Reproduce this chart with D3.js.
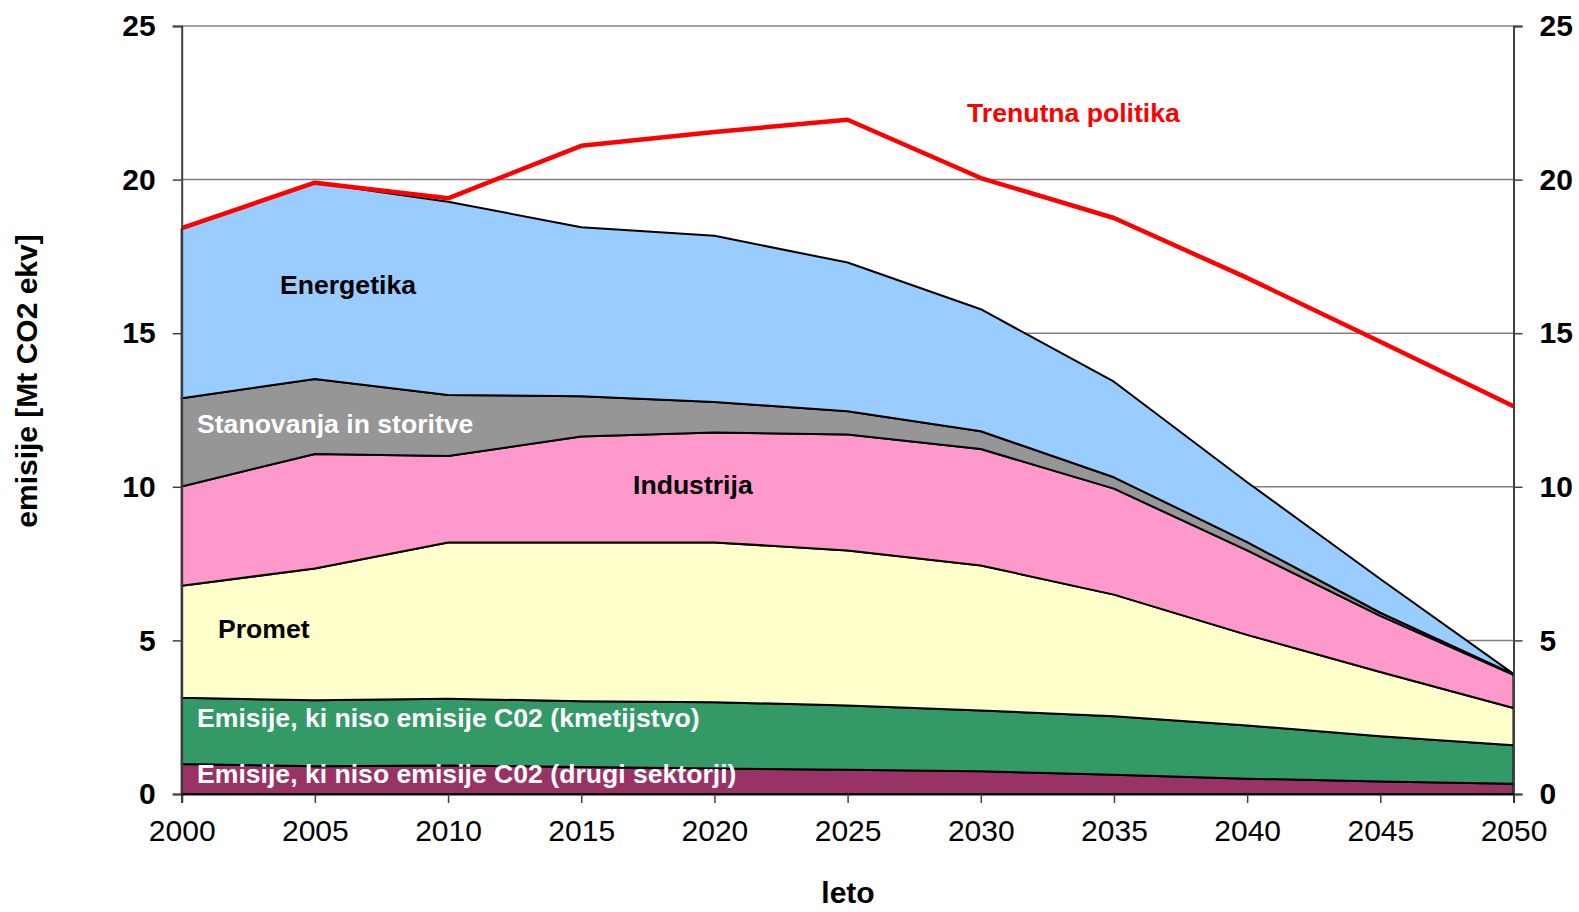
<!DOCTYPE html>
<html>
<head>
<meta charset="utf-8">
<script src="https://cdn.jsdelivr.net/npm/d3@7/dist/d3.min.js"></script>
<style>
  html, body { margin: 0; padding: 0; background: #fff; }
  svg { display: block; font-family: "Liberation Sans", Arial, sans-serif; }
</style>
</head>
<body>
<svg id="chart" width="1579" height="912"></svg>
<script>
// ---- data ----
const years = [2000, 2005, 2010, 2015, 2020, 2025, 2030, 2035, 2040, 2045, 2050];
const drugiSektorji = [0.98, 0.90, 0.93, 0.88, 0.83, 0.79, 0.74, 0.63, 0.50, 0.41, 0.33];
const kmetijstvo    = [2.15, 2.15, 2.17, 2.14, 2.16, 2.09, 1.98, 1.90, 1.73, 1.47, 1.26];
const promet        = [3.65, 4.29, 5.09, 5.17, 5.20, 5.05, 4.72, 3.96, 2.95, 2.09, 1.21];
const industrija    = [3.23, 3.73, 2.81, 3.45, 3.58, 3.77, 3.79, 3.45, 2.75, 1.83, 1.08];
const stanovanja    = [2.87, 2.44, 1.99, 1.31, 0.99, 0.76, 0.58, 0.37, 0.27, 0.10, 0.02];
const energetika    = [5.52, 6.39, 6.29, 5.50, 5.41, 4.84, 3.97, 3.11, 1.95, 1.10, 0.01];
const trenutnaPolitika = [18.42, 19.90, 19.39, 21.10, 21.55, 21.95, 20.05, 18.75, 16.80, 14.72, 12.62];
const yTicks = [0, 5, 10, 15, 20, 25];
const seriesKeys = ["drugi", "kmetijstvo", "promet", "industrija", "stanovanja", "energetika"];
const seriesColors = {
  drugi: "#993366", kmetijstvo: "#339966", promet: "#FFFFCC",
  industrija: "#FF99CC", stanovanja: "#969696", energetika: "#99CCFF"
};

// ---- build table ----
const table = years.map((yr, i) => ({
  year: yr,
  drugi: drugiSektorji[i], kmetijstvo: kmetijstvo[i], promet: promet[i],
  industrija: industrija[i], stanovanja: stanovanja[i], energetika: energetika[i]
}));

const svg = d3.select("#chart");
const x = d3.scaleLinear().domain([2000, 2050]).range([181.7, 1513.5]);
const y = d3.scaleLinear().domain([0, 25]).range([794, 26]);

// gridlines
svg.append("g").selectAll("line").data(yTicks.filter(d => d > 0)).join("line")
  .attr("x1", x(2000)).attr("x2", x(2050))
  .attr("y1", d => y(d)).attr("y2", d => y(d))
  .attr("stroke", "#808080").attr("stroke-width", 1.5);

// stacked areas
const stack = d3.stack().keys(seriesKeys);
const layers = stack(table);
const area = d3.area()
  .x(d => x(d.data.year))
  .y0(d => y(d[0]))
  .y1(d => y(d[1]));
svg.append("g").selectAll("path").data(layers).join("path")
  .attr("d", area)
  .attr("fill", d => seriesColors[d.key])
  .attr("stroke", "#000").attr("stroke-width", 2).attr("stroke-linejoin", "round");

// red line
const line = d3.line().x((d, i) => x(years[i])).y(d => y(d));
svg.append("path").datum(trenutnaPolitika)
  .attr("d", line).attr("fill", "none")
  .attr("stroke", "#FF0000").attr("stroke-width", 4.5).attr("stroke-linejoin", "round");

// axes
const yLeft = svg.append("g").attr("transform", `translate(${x(2000)},0)`)
  .call(d3.axisLeft(y).tickValues(yTicks).tickSize(9).tickPadding(17).tickFormat(d3.format("d")));
const yRight = svg.append("g").attr("transform", `translate(${x(2050)},0)`)
  .call(d3.axisRight(y).tickValues(yTicks).tickSize(9).tickPadding(17).tickFormat(d3.format("d")));
[yLeft, yRight].forEach(g => {
  g.select(".domain").attr("stroke", "#404040").attr("stroke-width", 2);
  g.selectAll(".tick line").attr("stroke", "#404040").attr("stroke-width", 1.5);
  g.selectAll(".tick text").attr("font-size", 30).attr("font-weight", "bold")
    .attr("fill", "#000").attr("font-family", "Liberation Sans, Arial, sans-serif");
});

const xAxis = svg.append("g").attr("transform", `translate(0,${y(0)})`)
  .call(d3.axisBottom(x).tickValues(years).tickSize(9).tickFormat(d3.format("d")));
xAxis.select(".domain").attr("stroke", "#000").attr("stroke-width", 2);
xAxis.selectAll(".tick line").attr("stroke", "#404040").attr("stroke-width", 1.5);
xAxis.selectAll(".tick text").attr("font-size", 30).attr("fill", "#000")
  .attr("dy", null).attr("y", 47)
  .attr("font-family", "Liberation Sans, Arial, sans-serif");

// axis titles
svg.append("text").attr("transform", "translate(37,381) rotate(-90)")
  .attr("text-anchor", "middle").attr("font-size", 30).attr("font-weight", "bold")
  .text("emisije [Mt CO2 ekv]");
svg.append("text").attr("x", 848).attr("y", 903)
  .attr("text-anchor", "middle").attr("font-size", 30).attr("font-weight", "bold")
  .text("leto");

// series labels
const labels = [
  { t: "Energetika", x: 280, y: 294, c: "#000" },
  { t: "Stanovanja in storitve", x: 197, y: 433, c: "#fff" },
  { t: "Industrija", x: 633, y: 494, c: "#000" },
  { t: "Promet", x: 218, y: 638, c: "#000" },
  { t: "Emisije, ki niso emisije C02 (kmetijstvo)", x: 197, y: 727, c: "#fff" },
  { t: "Emisije, ki niso emisije C02 (drugi sektorji)", x: 197, y: 783, c: "#fff" },
  { t: "Trenutna politika", x: 967, y: 122, c: "#FF0000" }
];
svg.append("g").selectAll("text").data(labels).join("text")
  .attr("x", d => d.x).attr("y", d => d.y)
  .attr("fill", d => d.c).attr("font-size", 26.6).attr("font-weight", "bold")
  .text(d => d.t);
</script>
</body>
</html>
